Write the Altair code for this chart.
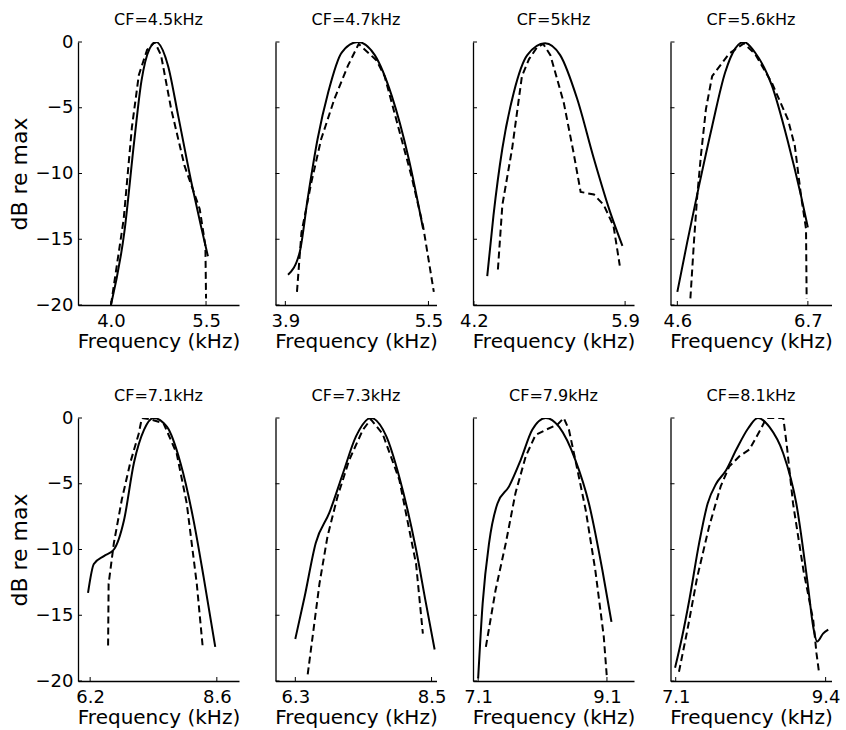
import altair as alt
import pandas as pd

titles = ["CF=4.5kHz", "CF=4.7kHz", "CF=5kHz", "CF=5.6kHz",
          "CF=7.1kHz", "CF=7.3kHz", "CF=7.9kHz", "CF=8.1kHz"]
x_ticks = [[4.0, 5.5], [3.9, 5.5], [4.2, 5.9], [4.6, 6.7],
           [6.2, 8.6], [6.3, 8.5], [7.1, 9.1], [7.1, 9.4]]
x_domains = [[3.48, 6.02], [3.79, 5.59], [4.19, 6.0], [4.49, 7.08],
             [5.97, 9.02], [5.98, 8.58], [7.02, 9.52], [7.02, 9.49]]
y_ticks = [0, -5, -10, -15, -20]

# solid (model) and dashed (measured) tuning curves, frequency in kHz, level in dB re max
solid_f_1 = [4.00, 4.21, 4.37, 4.48, 4.61, 4.71, 4.90, 5.06, 5.27, 5.42, 5.53]
solid_db_1 = [-20, -14.5, -7.4, -3.0, -0.5, 0, -1.8, -5.6, -10.7, -14.0, -16.3]
dash_f_1 = [4.00, 4.20, 4.33, 4.44, 4.57, 4.69, 4.79, 4.95, 5.16, 5.40, 5.49, 5.50]
dash_db_1 = [-20, -13.5, -6.5, -2.5, -0.6, 0, -1.0, -5.1, -9.4, -12.7, -15.5, -19.5]

solid_f_2 = [3.93, 4.06, 4.15, 4.26, 4.38, 4.53, 4.71, 4.90, 5.09, 5.28, 5.44]
solid_db_2 = [-17.7, -16.0, -11.9, -7.4, -3.8, -0.8, 0, -1.0, -4.1, -8.9, -14.2]
dash_f_2 = [4.03, 4.08, 4.19, 4.30, 4.45, 4.60, 4.72, 4.92, 5.01, 5.16, 5.31, 5.44, 5.56]
dash_db_2 = [-19.0, -14.5, -10.7, -7.4, -4.3, -1.8, -0.15, -1.4, -2.6, -6.4, -10.2, -14.0, -19.0]

solid_f_3 = [4.35, 4.42, 4.52, 4.65, 4.80, 5.00, 5.17, 5.36, 5.55, 5.73, 5.87]
solid_db_3 = [-17.8, -13.2, -8.1, -3.8, -1.0, -0.1, -1.0, -4.3, -8.9, -12.9, -15.5]
dash_f_3 = [4.47, 4.52, 4.63, 4.74, 4.82, 4.91, 4.98, 5.06, 5.21, 5.32, 5.40, 5.55, 5.66, 5.77, 5.84]
dash_db_3 = [-17.3, -12.4, -8.1, -2.6, -1.3, -0.4, -0.15, -1.0, -4.6, -8.4, -11.4, -11.6, -12.4, -14.0, -17.0]

solid_f_4 = [4.60, 4.76, 4.95, 5.16, 5.37, 5.53, 5.67, 5.85, 6.12, 6.38, 6.59, 6.70]
solid_db_4 = [-19.0, -15.2, -10.9, -6.4, -2.3, -0.5, 0, -0.8, -3.3, -7.6, -11.7, -14.1]
dash_f_4 = [4.81, 4.87, 4.92, 4.98, 5.06, 5.16, 5.43, 5.67, 5.85, 6.12, 6.38, 6.49, 6.59, 6.67, 6.68]
dash_db_4 = [-19.5, -15.0, -11.7, -8.6, -5.1, -2.6, -0.9, -0.1, -0.9, -3.1, -5.9, -7.9, -11.7, -14.2, -19.5]

solid_f_5 = [6.16, 6.27, 6.46, 6.65, 6.84, 7.03, 7.22, 7.40, 7.66, 7.91, 8.16, 8.35, 8.57]
solid_db_5 = [-13.3, -11.1, -10.5, -10.0, -7.8, -3.4, -0.9, 0, -0.7, -3.4, -7.8, -12.1, -17.4]
dash_f_5 = [6.54, 6.55, 6.65, 6.80, 6.96, 7.12, 7.18, 7.34, 7.59, 7.84, 8.03, 8.22, 8.33]
dash_db_5 = [-17.3, -12.6, -9.5, -6.2, -3.4, -1.2, 0, -0.1, -0.4, -2.7, -6.5, -12.6, -17.3]

solid_f_6 = [6.30, 6.45, 6.63, 6.85, 7.07, 7.28, 7.52, 7.77, 7.98, 8.25, 8.41, 8.55]
solid_db_6 = [-16.8, -13.6, -9.5, -7.2, -4.2, -1.4, 0, -1.4, -4.5, -10.0, -14.1, -17.6]
dash_f_6 = [6.50, 6.58, 6.69, 6.82, 6.98, 7.17, 7.39, 7.52, 7.71, 7.98, 8.25, 8.36]
dash_db_6 = [-19.5, -16.6, -12.6, -9.0, -6.0, -3.2, -0.9, -0.1, -1.2, -4.7, -11.1, -16.4]

solid_f_7 = [7.10, 7.17, 7.27, 7.40, 7.58, 7.76, 7.94, 8.15, 8.36, 8.61, 8.82, 9.03, 9.17]
solid_db_7 = [-19.8, -14.1, -9.5, -6.5, -5.2, -3.2, -0.9, 0, -0.7, -3.2, -6.5, -11.6, -15.5]
dash_f_7 = [7.22, 7.37, 7.53, 7.68, 7.84, 7.99, 8.15, 8.33, 8.43, 8.51, 8.61, 8.77, 8.92, 9.05, 9.10]
dash_db_7 = [-17.4, -13.1, -9.5, -5.7, -2.9, -1.3, -0.9, -0.5, 0, -0.9, -3.2, -7.0, -11.6, -16.6, -19.8]

solid_f_8 = [7.09, 7.20, 7.31, 7.46, 7.59, 7.72, 7.87, 8.03, 8.21, 8.36, 8.54, 8.75, 8.95, 9.13, 9.21, 9.27, 9.36, 9.44]
solid_db_8 = [-19.0, -16.6, -13.8, -9.5, -6.5, -5.0, -4.0, -2.4, -0.8, 0, -0.7, -2.7, -6.5, -12.8, -15.9, -17.0, -16.4, -16.1]
dash_f_8 = [7.15, 7.28, 7.43, 7.61, 7.79, 7.92, 8.08, 8.23, 8.41, 8.49, 8.75, 8.80, 8.90, 9.06, 9.21, 9.26, 9.30]
dash_db_8 = [-19.3, -16.1, -12.1, -8.3, -5.2, -3.7, -2.9, -2.4, -0.8, 0, 0, -1.9, -6.5, -11.6, -15.4, -17.9, -19.4]

solid_f = [solid_f_1, solid_f_2, solid_f_3, solid_f_4, solid_f_5, solid_f_6, solid_f_7, solid_f_8]
solid_db = [solid_db_1, solid_db_2, solid_db_3, solid_db_4, solid_db_5, solid_db_6, solid_db_7, solid_db_8]
dash_f = [dash_f_1, dash_f_2, dash_f_3, dash_f_4, dash_f_5, dash_f_6, dash_f_7, dash_f_8]
dash_db = [dash_db_1, dash_db_2, dash_db_3, dash_db_4, dash_db_5, dash_db_6, dash_db_7, dash_db_8]

FONT = "DejaVu Sans"
W, H = 161, 263


def panel(i):
    first = (i % 4 == 0)
    xs = alt.Scale(domain=x_domains[i], nice=False, zero=False)
    ys = alt.Scale(domain=[-20, 0], nice=False, zero=False)
    xaxis = alt.Axis(values=x_ticks[i], format=".1f", ticks=False, grid=False,
                     labelPadding=7, labelFontSize=18, labelFont=FONT, labelColor="black",
                     title="Frequency (kHz)", titleFontSize=20, titleFont=FONT,
                     titleFontWeight="normal", titleColor="black", titlePadding=1,
                     domainColor="black", domainWidth=1.3, labelFlush=False)
    ykw = dict(values=y_ticks, format="d", ticks=False, grid=False,
               domainColor="black", domainWidth=1.3, labels=True, labelPadding=5,
               labelFontSize=18, labelFont=FONT, labelColor="black")
    if first:
        ykw.update(title="dB re max", titleFontSize=22,
                   titleFont=FONT, titleFontWeight="normal", titleColor="black",
                   titlePadding=4)
    else:
        ykw.update(labelOpacity=0, title="")
    yaxis = alt.Axis(**ykw)

    sdf = pd.DataFrame({"f": solid_f[i], "db": solid_db[i]})
    ddf = pd.DataFrame({"f": dash_f[i], "db": dash_db[i]})
    solid = alt.Chart(sdf).mark_line(color="black", strokeWidth=2, interpolate="monotone",
                                     clip=True).encode(
        x=alt.X("f:Q", scale=xs, axis=xaxis),
        y=alt.Y("db:Q", scale=ys, axis=yaxis),
    )
    dashed = alt.Chart(ddf).mark_line(color="black", strokeWidth=2, strokeDash=[7, 4],
                                      clip=True).encode(
        x=alt.X("f:Q", scale=xs),
        y=alt.Y("db:Q", scale=ys),
    )
    yt = alt.Chart(pd.DataFrame({"db": y_ticks})).mark_rule(color="black", strokeWidth=1).encode(
        y=alt.Y("db:Q", scale=ys), x=alt.value(0), x2=alt.value(4))
    xt = alt.Chart(pd.DataFrame({"f": x_ticks[i]})).mark_rule(color="black", strokeWidth=1).encode(
        x=alt.X("f:Q", scale=xs), y=alt.value(H), y2=alt.value(H - 4))
    return alt.layer(solid, dashed, yt, xt).properties(
        width=W, height=H,
        title=alt.TitleParams(titles[i], fontSize=16, font=FONT, fontWeight="normal",
                              color="black", offset=5, frame="group", anchor="middle"),
    )


chart = alt.concat(*[panel(i) for i in range(8)], columns=4,
                   spacing={"row": 113, "column": 36.5}, bounds="flush").properties(
    padding={"left": 8, "top": 12, "right": 5, "bottom": 2},
    background="white",
).configure_view(strokeWidth=0)

chart.save("out.html", embed_options={"renderer": "svg", "actions": False})
